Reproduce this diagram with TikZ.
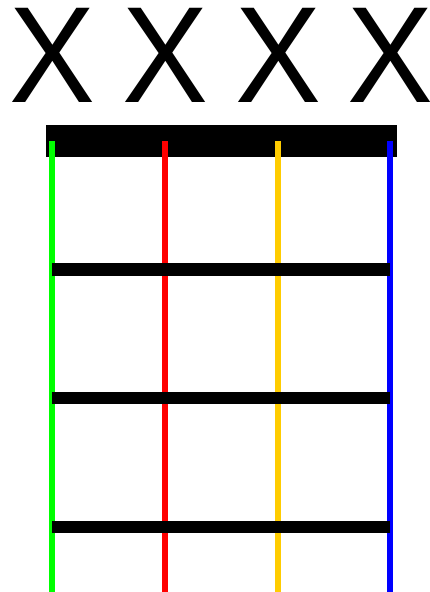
\documentclass[tikz,border=0pt]{standalone}
\usepackage{fontspec}
\setmainfont{Liberation Sans}
\definecolor{strgreen}{RGB}{0,255,0}
\definecolor{strred}{RGB}{255,0,0}
\definecolor{stryellow}{RGB}{255,204,0}
\definecolor{strblue}{RGB}{0,0,255}
\begin{document}
\begin{tikzpicture}[x=1pt,y=-1pt,
  mute/.style={font=\fontsize{137}{137}\selectfont, inner sep=0pt, anchor=base, xscale=0.94},
  stringline/.style={line width=6pt},
  fretbar/.style={line width=12.5pt, black}]
\useasboundingbox (0,0) rectangle (429,592);
% mute marks
\node[mute] (x1) at (52,102) {X};
\node[mute] (x2) at (165,102) {X};
\node[mute] (x3) at (278,102) {X};
\node[mute] (x4) at (390,102) {X};
% nut
\fill[black] (46,125) rectangle (397,157);
% strings
\coordinate (s1t) at (52,141); \coordinate (s1b) at (52,592);
\coordinate (s2t) at (165,141); \coordinate (s2b) at (165,592);
\coordinate (s3t) at (277.5,141); \coordinate (s3b) at (277.5,592);
\coordinate (s4t) at (390,141); \coordinate (s4b) at (390,592);
\draw[stringline, strgreen] (s1t) -- (s1b);
\draw[stringline, strred] (s2t) -- (s2b);
\draw[stringline, stryellow] (s3t) -- (s3b);
\draw[stringline, strblue] (s4t) -- (s4b);
% frets
\draw[fretbar] (52,269.5) -- (390,269.5);
\draw[fretbar] (52,398) -- (390,398);
\draw[fretbar] (52,527) -- (390,527);
\end{tikzpicture}
\end{document}
